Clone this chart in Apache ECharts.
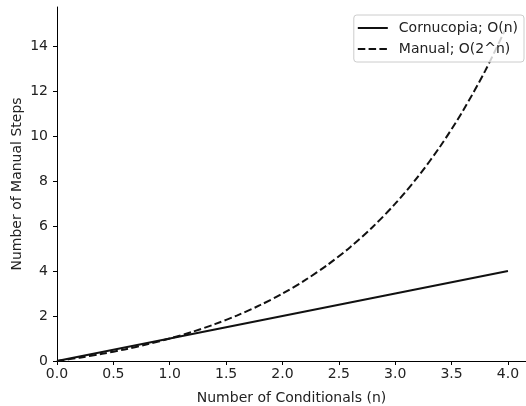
<!DOCTYPE html>
<html><head><meta charset="utf-8">
<script src="https://cdn.jsdelivr.net/npm/echarts@6/dist/echarts.min.js"></script>
<style>html,body{margin:0;padding:0;background:#fff}#c{width:526px;height:406px}</style>
</head><body><div id="c"></div>
<script>
const nValues = [0, 0.2, 0.4, 0.6, 0.8, 1.0, 1.2, 1.4, 1.6, 1.8, 2.0, 2.2, 2.4, 2.6, 2.8, 3.0, 3.2, 3.4, 3.6, 3.8, 4.0];
const cornucopiaSteps = [0, 0.2, 0.4, 0.6, 0.8, 1.0, 1.2, 1.4, 1.6, 1.8, 2.0, 2.2, 2.4, 2.6, 2.8, 3.0, 3.2, 3.4, 3.6, 3.8, 4.0];
const manualSteps = [0, 0.149, 0.320, 0.516, 0.741, 1.0, 1.297, 1.639, 2.031, 2.482, 3.0, 3.595, 4.278, 5.063, 5.964, 7.0, 8.190, 9.556, 11.126, 12.929, 15.0];
const xTicks = [0, 0.5, 1.0, 1.5, 2.0, 2.5, 3.0, 3.5, 4.0];
const yTicks = [0, 2, 4, 6, 8, 10, 12, 14];
const seriesNames = ['Cornucopia; O(n)', 'Manual; O(2^n)'];

const FONT = 'DejaVu Sans';
const chart = echarts.init(document.getElementById('c'), null, {renderer: 'canvas'});
chart.setOption({
  animation: false,
  backgroundColor: '#fff',
  grid: {left: 57, right: 0, top: 7, bottom: 45, containLabel: false, outerBoundsMode: 'none'},
  legend: {
    data: seriesNames.map(n => ({name: n})),
    orient: 'vertical', right: 2, top: 15,
    itemWidth: 30, itemHeight: 10, itemGap: 7,
    padding: [6, 6, 6, 3],
    backgroundColor: 'rgba(255,255,255,0.8)',
    borderColor: '#cccccc', borderWidth: 1, borderRadius: 3,
    itemStyle: {opacity: 0},
    textStyle: {fontFamily: FONT, fontSize: 14, color: '#222', padding: [0, 0, 0, 6]}
  },
  xAxis: {
    type: 'value', min: 0, max: 4.16,
    name: 'Number of Conditionals (n)', nameLocation: 'middle', nameGap: 30, nameMoveOverlap: false,
    nameTextStyle: {fontFamily: FONT, fontSize: 14, color: '#222'},
    axisLine: {lineStyle: {color: '#000', width: 1}},
    axisTick: {show: true, length: 4, customValues: xTicks, lineStyle: {color: '#000'}},
    axisLabel: {customValues: xTicks, fontFamily: FONT, fontSize: 14, color: '#222', margin: 6,
      formatter: v => v.toFixed(1)},
    splitLine: {show: false}
  },
  yAxis: {
    type: 'value', min: 0, max: 15.75,
    name: 'Number of Manual Steps', nameLocation: 'middle', nameGap: 33, nameMoveOverlap: false,
    nameTextStyle: {fontFamily: FONT, fontSize: 14, color: '#222'},
    axisLine: {show: true, lineStyle: {color: '#000', width: 1}},
    axisTick: {show: true, length: 4, customValues: yTicks, lineStyle: {color: '#000'}},
    axisLabel: {customValues: yTicks, fontFamily: FONT, fontSize: 14, color: '#222', margin: 9},
    splitLine: {show: false}
  },
  series: [
    {name: seriesNames[0], type: 'line', symbol: 'none', z: 2,
     data: nValues.map((x, i) => [x, cornucopiaSteps[i]]),
     lineStyle: {color: '#111', width: 2}, itemStyle: {color: '#111'}},
    {name: seriesNames[1], type: 'line', symbol: 'none', smooth: 0.3, z: 2,
     data: nValues.map((x, i) => [x, manualSteps[i]]),
     lineStyle: {color: '#111', width: 2, type: [7.5, 3.3]}, itemStyle: {color: '#111'}}
  ]
});
</script></body></html>
